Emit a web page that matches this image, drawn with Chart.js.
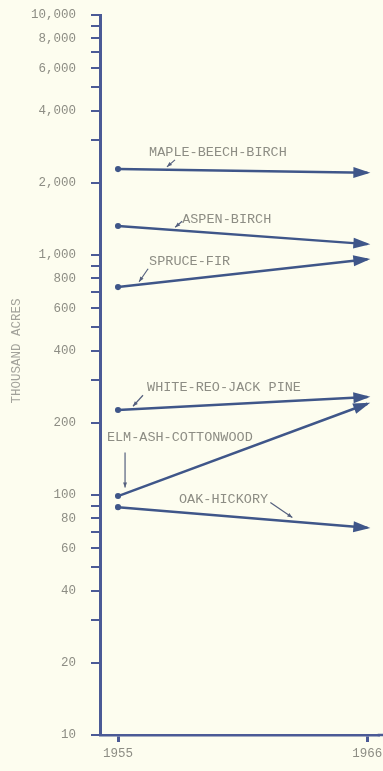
<!DOCTYPE html>
<html>
<head>
<meta charset="utf-8">
<script src="https://cdn.jsdelivr.net/npm/chart.js@4/dist/chart.umd.min.js"></script>
<style>
  html, body { margin: 0; padding: 0; background: #fdfdef; }
  #wrap { width: 383px; height: 771px; position: relative; }
</style>
</head>
<body>
<div id="wrap"><canvas id="c" width="383" height="771"></canvas></div>
<script>
// Forest types, area in thousand acres, 1955 and 1966
const forestTypes = [
  "MAPLE-BEECH-BIRCH",
  "ASPEN-BIRCH",
  "SPRUCE-FIR",
  "WHITE-REO-JACK PINE",
  "ELM-ASH-COTTONWOOD",
  "OAK-HICKORY"
];
const years = [1955, 1966];
const acres1955 = [2280, 1320, 735, 226, 99, 89];
const acres1966 = [2200, 1110, 960, 256, 240, 73];

// Labelled values on the vertical scale
const yTickLabels = [10, 20, 40, 60, 80, 100, 200, 400, 600, 800, 1000, 2000, 4000, 6000, 8000, 10000];

// Where each type name sits (year, acres) and where its pointer touches the line
const labelLayout = [
  { lx: 1956.37, ly: 2685, tipYear: 1957.16, lift: 3, tail: [8, -7] },
  { lx: 1957.83, ly: 1413, tipYear: 1957.52, lift: 3, tail: [7, -6] },
  { lx: 1956.37, ly: 944,  tipYear: 1955.93, lift: 3, tail: [9, -13] },
  { lx: 1956.28, ly: 282,  tipYear: 1955.66, lift: 3, tail: [10, -11] },
  { lx: 1954.51, ly: 173,  tipYear: 1955.31, lift: 6, tail: [0, -35] },
  { lx: 1957.69, ly: 96.2, tipYear: 1962.69, lift: 4, tail: [-22, -15] }
];

const INK = '#3f5689';
const AXIS = '#4b5a96';
const TEXT = '#8d8d84';
const MONO = '"Liberation Mono", "DejaVu Sans Mono", monospace';

const datasets = forestTypes.map((name, i) => ({
  label: name,
  data: [
    { x: years[0], y: acres1955[i] },
    { x: years[1], y: acres1966[i] }
  ],
  borderColor: INK,
  backgroundColor: INK,
  borderWidth: 2.5,
  pointRadius: [1.8, 0],
  pointHoverRadius: 0,
  tension: 0
}));

function drawHead(ctx, x0, y0, x1, y1, len, half) {
  const a = Math.atan2(y1 - y0, x1 - x0);
  ctx.beginPath();
  ctx.moveTo(x1, y1);
  ctx.lineTo(x1 - len * Math.cos(a) + half * Math.sin(a), y1 - len * Math.sin(a) - half * Math.cos(a));
  ctx.lineTo(x1 - len * Math.cos(a) - half * Math.sin(a), y1 - len * Math.sin(a) + half * Math.cos(a));
  ctx.closePath();
  ctx.fill();
}

const arrowsAndLabels = {
  id: 'arrowsAndLabels',
  afterDatasetsDraw(chart) {
    const { ctx, scales: { x, y }, chartArea } = chart;
    ctx.save();

    // carry the year axis line on to the right edge
    ctx.strokeStyle = AXIS;
    ctx.lineWidth = 2.5;
    ctx.beginPath();
    ctx.moveTo(chartArea.right - 1, chartArea.bottom);
    ctx.lineTo(chart.width, chartArea.bottom);
    ctx.stroke();

    forestTypes.forEach((name, i) => {
      const x0 = x.getPixelForValue(years[0]), y0 = y.getPixelForValue(acres1955[i]);
      const x1 = x.getPixelForValue(years[1]), y1 = y.getPixelForValue(acres1966[i]);
      // arrowhead a little past the 1966 point
      const a = Math.atan2(y1 - y0, x1 - x0);
      const tx = x1 + 3 * Math.cos(a), ty = y1 + 3 * Math.sin(a);
      ctx.fillStyle = INK;
      drawHead(ctx, x0, y0, tx, ty, 17, 5.5);

      // type name and its pointer
      const L = labelLayout[i];
      ctx.font = '13.5px ' + MONO;
      ctx.fillStyle = TEXT;
      ctx.textBaseline = 'middle';
      ctx.textAlign = 'left';
      ctx.fillText(name, x.getPixelForValue(L.lx), y.getPixelForValue(L.ly));

      const px = x.getPixelForValue(L.tipYear);
      const t = (px - x0) / (x1 - x0);
      const py = y0 + t * (y1 - y0) - L.lift;
      const sx = px + L.tail[0], sy = py + L.tail[1];
      ctx.strokeStyle = '#55607e';
      ctx.fillStyle = '#55607e';
      ctx.lineWidth = 1.2;
      ctx.beginPath();
      ctx.moveTo(sx, sy);
      ctx.lineTo(px, py);
      ctx.stroke();
      drawHead(ctx, sx, sy, px, py, 5, 2);
    });

    // vertical axis title
    ctx.save();
    ctx.translate(17, 351);
    ctx.rotate(-Math.PI / 2);
    ctx.font = '12.5px ' + MONO;
    ctx.fillStyle = '#a2a29a';
    ctx.textAlign = 'center';
    ctx.textBaseline = 'middle';
    ctx.fillText('THOUSAND ACRES', 0, 0);
    ctx.restore();
    ctx.restore();
  }
};

const bg = {
  id: 'bg',
  beforeDraw(chart) {
    const { ctx, width, height } = chart;
    ctx.save();
    ctx.fillStyle = '#fdfdef';
    ctx.fillRect(0, 0, width, height);
    ctx.restore();
  }
};

new Chart(document.getElementById('c'), {
  type: 'line',
  data: { datasets },
  plugins: [bg, arrowsAndLabels],
  options: {
    responsive: false,
    animation: false,
    events: [],
    layout: { padding: { top: 15, right: 0, left: 0, bottom: 0 } },
    plugins: { legend: { display: false }, tooltip: { enabled: false } },
    scales: {
      x: {
        type: 'linear',
        min: 1954.205,
        max: 1966.5,
        afterBuildTicks(scale) {
          scale.ticks = years.map(v => ({ value: v }));
        },
        afterFit(scale) {
          scale.height = 36;
          scale.paddingLeft = 0;
          scale.paddingRight = 0;
        },
        ticks: {
          color: TEXT,
          font: { family: MONO, size: 12.5 },
          padding: 4,
          maxRotation: 0,
          autoSkip: false,
          callback: v => String(v)
        },
        grid: {
          drawOnChartArea: false,
          drawTicks: true,
          tickLength: 7,
          color: AXIS,
          lineWidth: 3
        },
        border: { display: true, color: AXIS, width: 2.5 }
      },
      y: {
        type: 'logarithmic',
        min: 10,
        max: 10000,
        afterBuildTicks(scale) {
          const t = [];
          for (let d = 10; d < 10000; d *= 10) {
            for (let m = 1; m < 10; m++) t.push({ value: m * d });
          }
          t.push({ value: 10000 });
          scale.ticks = t;
        },
        afterFit(scale) {
          scale.width = 100;
          scale.paddingTop = 0;
          scale.paddingBottom = 0;
        },
        ticks: {
          color: TEXT,
          font: { family: MONO, size: 12.5 },
          padding: 15,
          autoSkip: false,
          callback: v => yTickLabels.includes(v) ? v.toLocaleString('en-US') : ''
        },
        grid: {
          drawOnChartArea: false,
          drawTicks: true,
          tickLength: 9,
          color: AXIS,
          lineWidth: 2
        },
        border: { display: true, color: AXIS, width: 3 }
      }
    }
  }
});
</script>
</body>
</html>
